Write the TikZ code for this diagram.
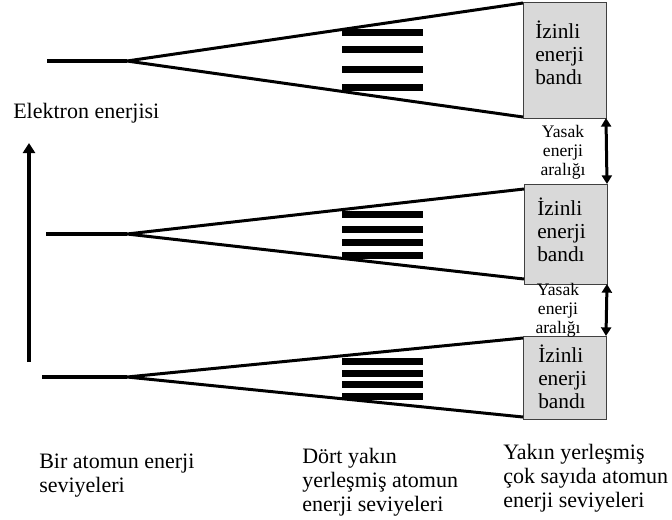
\documentclass[tikz,border=0pt]{standalone}
\usepackage{fontspec}
\setmainfont{Liberation Serif}
\usetikzlibrary{arrows.meta}
\definecolor{bandgray}{HTML}{D9D9D9}
\definecolor{bandedge}{HTML}{404040}
\begin{document}
\begin{tikzpicture}[x=0.75pt,y=-0.75pt,
  level/.style={line width=2.6pt},
  fan/.style={line width=2.25pt, line join=miter},
  split/.style={fill=black},
  band/.style={draw=bandedge, line width=0.75pt, fill=bandgray,
    minimum width=62.25pt, inner sep=0pt, outer sep=0pt},
  gap/.style={line width=2.25pt,
    {Triangle[width=7.5pt,length=6.5pt]}-{Triangle[width=7.5pt,length=6.5pt]}},
  axis/.style={line width=3pt, -{Triangle[width=9pt,length=7.5pt]}},
  label/.style={font=\fontsize{16.5}{18}\selectfont, align=left,
    anchor=base west, inner sep=0pt},
  bandtext/.style={font=\fontsize{16}{17.25}\selectfont, align=left,
    anchor=base west, inner sep=0pt},
  gaptext/.style={font=\fontsize{13.2}{13.9}\selectfont, align=center,
    anchor=base, inner sep=0pt},
]
\useasboundingbox (0,0) rectangle (672,519);

% allowed energy bands
\node[band, minimum height=87pt]    (b1) at (564.5,60)  {};
\node[band, minimum height=75pt]    (b2) at (565.5,234) {};
\node[band, minimum height=62.25pt] (b3) at (564.5,377.5) {};

% single-atom levels and their splitting points
\coordinate (s1) at (47,61);   \coordinate (a1) at (127,61);
\coordinate (s2) at (46,234);  \coordinate (a2) at (127,234);
\coordinate (s3) at (42,377);  \coordinate (a3) at (127,377);

% where the fans meet the bands
\coordinate (u1) at (523,3);   \coordinate (l1) at (523,117);
\coordinate (u2) at (524,189); \coordinate (l2) at (524,279);
\coordinate (u3) at (523,338); \coordinate (l3) at (523,417);

\draw[level] (s1) -- (a1);
\draw[level] (s2) -- (a2);
\draw[level] (s3) -- (a3);
\draw[fan] (u1) -- (a1) -- (l1);
\draw[fan] (u2) -- (a2) -- (l2);
\draw[fan] (u3) -- (a3) -- (l3);

% four split levels in each fan
\foreach \y in {32,49,69,87,214,229,242,255,361,373,384,396}
  \fill[split] (342,\y-3.5) rectangle (423,\y+3.5);

% energy axis
\coordinate (e0) at (29,362);
\coordinate (e1) at (29,143);
\draw[axis] (e0) -- (e1);
\node[label] (ax) at (13,118) {Elektron enerjisi};

% forbidden gaps between the bands
\draw[gap] (b1.south east) -- (b2.north east);
\draw[gap] (b2.south east) -- (b3.north east);

% multi-line texts are placed by the baseline of their last line
\node[bandtext] (t1) at (535,84)  {İzinli\\enerji\\bandı};
\node[bandtext] (t2) at (537,261) {İzinli\\enerji\\bandı};
\node[bandtext] (t3) at (538,408) {İzinli\\enerji\\bandı};

\node[gaptext] (g1) at (563,175) {Yasak\\enerji\\aralığı};
\node[gaptext] (g2) at (558,333) {Yasak\\enerji\\aralığı};

% column captions
\node[label] (c1) at (39,492)  {Bir atomun enerji\\seviyeleri};
\node[label] (c2) at (302,511) {Dört yakın\\yerleşmiş atomun\\enerji seviyeleri};
\node[label] (c3) at (503,507) {Yakın yerleşmiş\\çok sayıda atomun\\enerji seviyeleri};
\end{tikzpicture}
\end{document}
